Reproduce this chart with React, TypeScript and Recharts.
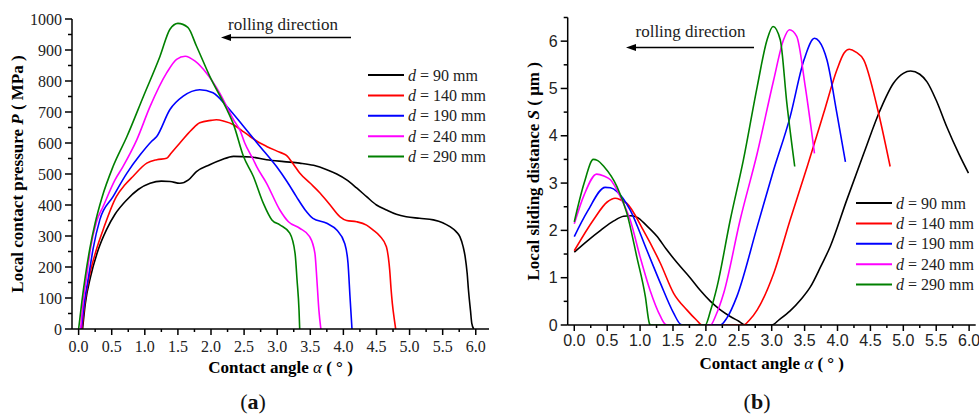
import { LineChart, Line, XAxis, YAxis } from "recharts";

type Pair = [number, number];

// series order / colours shared by both panels
const spacings = [90, 140, 190, 240, 290];
const colors = ["#000000", "#ff0000", "#0000ff", "#ff00ff", "#008000"];

// (a) local contact pressure P (MPa) against contact angle α (°)
const pressure90: Pair[] = [
  [0.06, 0], [0.1, 80], [0.18, 168], [0.3, 258], [0.42, 320], [0.55, 370], [0.73, 417],
  [0.9, 450], [1.08, 470], [1.25, 477], [1.38, 476], [1.53, 470], [1.66, 481], [1.78, 508],
  [1.98, 530], [2.15, 545], [2.34, 557], [2.6, 555], [2.84, 546], [3.1, 540], [3.34, 535],
  [3.55, 528], [3.75, 514], [3.9, 500], [4.05, 481], [4.2, 455], [4.35, 427], [4.5, 400],
  [4.65, 384], [4.8, 370], [4.95, 362], [5.15, 357], [5.36, 352], [5.5, 343], [5.61, 330],
  [5.7, 315], [5.76, 298], [5.81, 265], [5.84, 233], [5.87, 180], [5.89, 125], [5.92, 60],
  [5.94, 18], [5.97, 0],
];
const pressure140: Pair[] = [
  [0.05, 0], [0.09, 80], [0.16, 168], [0.26, 250], [0.37, 320], [0.57, 427], [0.7, 465],
  [0.82, 492], [1.03, 535], [1.18, 546], [1.33, 551], [1.4, 568], [1.53, 600], [1.71, 643],
  [1.83, 665], [2.0, 673], [2.08, 675], [2.2, 670], [2.34, 659], [2.5, 635], [2.59, 621],
  [2.74, 600], [2.84, 589], [3.04, 570], [3.14, 560], [3.25, 530], [3.34, 503], [3.5, 470],
  [3.65, 438], [3.8, 400], [3.95, 362], [4.05, 350], [4.2, 346], [4.35, 335], [4.45, 319],
  [4.55, 300], [4.65, 265], [4.68, 230], [4.7, 190], [4.72, 130], [4.74, 82], [4.77, 30],
  [4.79, 0],
];
const pressure190: Pair[] = [
  [0.04, 0], [0.09, 90], [0.15, 168], [0.22, 260], [0.32, 352], [0.52, 427], [0.73, 503],
  [0.93, 562], [1.1, 605], [1.18, 621], [1.38, 708], [1.58, 751], [1.83, 772], [2.03, 762],
  [2.24, 718], [2.49, 654], [2.74, 589], [2.99, 524], [3.15, 475], [3.29, 427], [3.42, 385],
  [3.54, 357], [3.75, 341], [3.9, 319], [4.02, 276], [4.07, 212], [4.1, 104], [4.13, 0],
];
const pressure240: Pair[] = [
  [0.03, 0], [0.07, 90], [0.12, 168], [0.18, 260], [0.27, 346], [0.37, 395], [0.55, 481],
  [0.67, 524], [0.88, 611], [1.08, 718], [1.33, 826], [1.48, 870], [1.61, 880], [1.76, 864],
  [1.93, 826], [2.13, 762], [2.34, 675], [2.44, 640], [2.51, 600], [2.64, 546], [2.69, 524],
  [2.84, 470], [3.04, 384], [3.17, 346], [3.34, 325], [3.49, 298], [3.57, 244], [3.6, 158],
  [3.63, 61], [3.66, 0],
];
const pressure290: Pair[] = [
  [0.0, 0], [0.05, 90], [0.1, 168], [0.17, 260], [0.25, 342], [0.35, 422], [0.52, 524],
  [0.73, 621], [0.98, 751], [1.23, 880], [1.38, 967], [1.5, 986], [1.65, 973], [1.78, 913],
  [1.98, 816], [2.24, 708], [2.34, 660], [2.49, 557], [2.64, 492], [2.79, 406], [2.92, 352],
  [3.04, 336], [3.19, 309], [3.27, 244], [3.3, 158], [3.33, 60], [3.34, 0],
];

// (b) local sliding distance S (μm) against contact angle α (°)
const sliding90: Pair[] = [
  [0, 1.54], [0.2, 1.78], [0.4, 2.0], [0.6, 2.2], [0.75, 2.3], [0.85, 2.31], [0.95, 2.28],
  [1.1, 2.1], [1.26, 1.87], [1.4, 1.6], [1.56, 1.32], [1.76, 1.0], [1.91, 0.74], [2.07, 0.5],
  [2.22, 0.32], [2.37, 0.18], [2.5, 0.08], [2.6, 0], [3.0, 0], [3.12, 0.12], [3.28, 0.3],
  [3.45, 0.55], [3.59, 0.81], [3.75, 1.25], [3.89, 1.66], [4.14, 2.64], [4.4, 3.63],
  [4.65, 4.55], [4.85, 5.11], [5.0, 5.32], [5.11, 5.37], [5.25, 5.3], [5.36, 5.14],
  [5.5, 4.75], [5.66, 4.19], [5.85, 3.6], [5.99, 3.21],
];
const sliding140: Pair[] = [
  [0, 1.57], [0.29, 2.22], [0.5, 2.6], [0.62, 2.68], [0.7, 2.65], [0.8, 2.57], [1.05, 2.0],
  [1.31, 1.3], [1.51, 0.67], [1.71, 0.32], [1.86, 0.1], [1.94, 0], [2.57, 0], [2.66, 0.1],
  [2.78, 0.32], [3.03, 1.09], [3.28, 2.22], [3.54, 3.35], [3.79, 4.48], [3.99, 5.39],
  [4.1, 5.75], [4.18, 5.83], [4.28, 5.77], [4.4, 5.6], [4.6, 4.62], [4.8, 3.35],
];
const sliding190: Pair[] = [
  [0, 1.87], [0.2, 2.4], [0.47, 2.91], [0.55, 2.9], [0.65, 2.82], [0.85, 2.43], [1.1, 1.59],
  [1.31, 0.88], [1.51, 0.25], [1.61, 0.02], [1.65, 0], [2.22, 0], [2.32, 0.15], [2.47, 0.6],
  [2.78, 2.08], [3.03, 3.28], [3.28, 4.4], [3.49, 5.6], [3.65, 6.06], [3.72, 6.0],
  [3.84, 5.6], [3.99, 4.48], [4.12, 3.45],
];
const sliding240: Pair[] = [
  [0, 2.14], [0.15, 2.75], [0.34, 3.19], [0.45, 3.15], [0.55, 3.07], [0.7, 2.71],
  [0.85, 2.22], [1.0, 1.44], [1.15, 0.74], [1.31, 0.18], [1.38, 0.02], [1.42, 0], [2.07, 0],
  [2.15, 0.2], [2.27, 0.67], [2.52, 2.22], [2.78, 3.63], [3.03, 5.18], [3.18, 6.03],
  [3.27, 6.24], [3.38, 6.1], [3.51, 5.04], [3.65, 3.63],
];
const sliding290: Pair[] = [
  [0, 2.18], [0.15, 3.0], [0.29, 3.5], [0.35, 3.48], [0.45, 3.35], [0.65, 2.92], [0.8, 2.36],
  [0.95, 1.44], [1.08, 0.6], [1.14, 0.04], [1.16, 0], [1.99, 0], [2.07, 0.3], [2.17, 0.81],
  [2.37, 2.22], [2.57, 3.49], [2.78, 5.04], [2.93, 6.03], [3.02, 6.31], [3.13, 6.03],
  [3.23, 4.69], [3.35, 3.35],
];

const pressureSeries = [pressure90, pressure140, pressure190, pressure240, pressure290];
const slidingSeries = [sliding90, sliding140, sliding190, sliding240, sliding290];

const angleTicks = [
  0, 0.25, 0.5, 0.75, 1, 1.25, 1.5, 1.75, 2, 2.25, 2.5, 2.75, 3, 3.25, 3.5, 3.75, 4, 4.25,
  4.5, 4.75, 5, 5.25, 5.5, 5.75, 6,
];
const pressureTicks = [
  0, 50, 100, 150, 200, 250, 300, 350, 400, 450, 500, 550, 600, 650, 700, 750, 800, 850,
  900, 950, 1000,
];
const slidingTicks = [0, 0.5, 1, 1.5, 2, 2.5, 3, 3.5, 4, 4.5, 5, 5.5, 6, 6.5];

const SERIF = "'Liberation Serif', 'Times New Roman', serif";
const SANS = "'Liberation Sans', Arial, sans-serif";

const toPoints = (pairs: Pair[]) => pairs.map(([a, v]) => ({ a, v }));

const isHalf = (v: number) => Math.abs(v * 2 - Math.round(v * 2)) < 1e-6;

function AngleTick(props: any) {
  const { x, y, payload, font, gap } = props;
  const major = isHalf(payload.value);
  return (
    <g>
      <line x1={x} x2={x} y1={y} y2={y + (major ? 6 : 3)} stroke="#000" strokeWidth={1.5} />
      {major && (
        <text x={x} y={y + gap} textAnchor="middle" fontFamily={font} fontSize={16} fill="#222">
          {payload.value.toFixed(1)}
        </text>
      )}
    </g>
  );
}

function ValueTick(props: any) {
  const { x, y, payload, font, majorStep } = props;
  const v = payload.value;
  const major = Math.abs(v / majorStep - Math.round(v / majorStep)) < 1e-6;
  return (
    <g>
      <line x1={x} x2={x - (major ? 7 : 4)} y1={y} y2={y} stroke="#000" strokeWidth={1.5} />
      {major && (
        <text x={x - 10} y={y} dy="0.35em" textAnchor="end" fontFamily={font} fontSize={16} fill="#222">
          {v}
        </text>
      )}
    </g>
  );
}

function AngleTitle({ viewBox }: any) {
  return (
    <text
      x={viewBox.x + viewBox.width / 2}
      y={viewBox.y + 44}
      textAnchor="middle"
      fontFamily={SERIF}
      fontSize={17}
      fontWeight="bold"
    >
      Contact angle <tspan fontStyle="italic" fontWeight="normal">α</tspan> ( ° )
    </text>
  );
}

function makeYTitle(main: string, sym: string, unit: string, dx: number) {
  return ({ viewBox }: any) => {
    const cx = viewBox.x + dx;
    const cy = viewBox.y + viewBox.height / 2;
    return (
      <text
        x={cx}
        y={cy}
        transform={`rotate(-90 ${cx} ${cy})`}
        textAnchor="middle"
        fontFamily={SERIF}
        fontSize={17}
        fontWeight="bold"
      >
        {main} <tspan fontStyle="italic">{sym}</tspan> ( {unit} )
      </text>
    );
  };
}

const PressureTitle = makeYTitle("Local contact pressure", "P", "MPa", 23);
const SlidingTitle = makeYTitle("Local sliding distance", "S", "μm", 49);

function LegendBlock({ x, y, step }: { x: number; y: number; step: number }) {
  return (
    <g>
      {spacings.map((d, i) => (
        <g key={d}>
          <line x1={x} x2={x + 36} y1={y + i * step} y2={y + i * step} stroke={colors[i]} strokeWidth={2} />
          <text x={x + 40} y={y + i * step + 5.5} fontFamily={SERIF} fontSize={16} fill="#222">
            <tspan fontStyle="italic">d</tspan> = {d} mm
          </text>
        </g>
      ))}
    </g>
  );
}

function Arrow({ x1, x2, y, tx, ty }: { x1: number; x2: number; y: number; tx: number; ty: number }) {
  return (
    <g>
      <text x={tx} y={ty} fontFamily={SERIF} fontSize={17} fill="#222">
        rolling direction
      </text>
      <line x1={x1 + 8} x2={x2} y1={y} y2={y} stroke="#000" strokeWidth={1.6} />
      <path d={`M${x1},${y} L${x1 + 10},${y - 3.5} L${x1 + 10},${y + 3.5} Z`} fill="#000" />
    </g>
  );
}

export default function App() {
  return (
    <div style={{ position: "absolute", left: 0, top: 0, width: 979, height: 417, background: "#fff" }}>
      <div style={{ position: "absolute", left: 0, top: 0 }}>
        <LineChart width={490} height={417} margin={{ top: 19, right: 1, bottom: 0, left: 0 }}>
          <XAxis
            type="number"
            dataKey="a"
            domain={[-0.1, 6.2]}
            allowDataOverflow
            ticks={angleTicks}
            interval={0}
            tickLine={false}
            tickSize={0}
            tickMargin={0}
            height={88}
            stroke="#000"
            strokeWidth={1.5}
            tick={(p: any) => <AngleTick {...p} font={SERIF} gap={23} />}
            label={<AngleTitle />}
          />
          <YAxis
            type="number"
            domain={[0, 1000]}
            allowDataOverflow
            ticks={pressureTicks}
            interval={0}
            tickLine={false}
            tickSize={0}
            tickMargin={0}
            width={72}
            stroke="#000"
            strokeWidth={1.5}
            tick={(p: any) => <ValueTick {...p} font={SERIF} majorStep={100} />}
            label={<PressureTitle />}
          />
          {pressureSeries.map((s, i) => (
            <Line
              key={spacings[i]}
              data={toPoints(s)}
              dataKey="v"
              type="monotone"
              stroke={colors[i]}
              strokeWidth={1.6}
              dot={false}
              isAnimationActive={false}
            />
          ))}
        </LineChart>
      </div>
      <div style={{ position: "absolute", left: 490, top: 0 }}>
        <LineChart width={489} height={417} margin={{ top: 17.5, right: 3.3, bottom: 0, left: 0 }}>
          <XAxis
            type="number"
            dataKey="a"
            domain={[-0.1, 6.1]}
            allowDataOverflow
            ticks={angleTicks}
            interval={0}
            tickLine={false}
            tickSize={0}
            tickMargin={0}
            height={92}
            stroke="#000"
            strokeWidth={1.5}
            tick={(p: any) => <AngleTick {...p} font={SANS} gap={21} />}
            label={<AngleTitle />}
          />
          <YAxis
            type="number"
            domain={[0, 6.5]}
            allowDataOverflow
            ticks={slidingTicks}
            interval={0}
            tickLine={false}
            tickSize={0}
            tickMargin={0}
            width={77.7}
            stroke="#000"
            strokeWidth={1.5}
            tick={(p: any) => <ValueTick {...p} font={SANS} majorStep={1} />}
            label={<SlidingTitle />}
          />
          {slidingSeries.map((s, i) => (
            <Line
              key={spacings[i]}
              data={toPoints(s)}
              dataKey="v"
              type="monotone"
              stroke={colors[i]}
              strokeWidth={1.6}
              dot={false}
              isAnimationActive={false}
            />
          ))}
        </LineChart>
      </div>
      <svg width={979} height={417} style={{ position: "absolute", left: 0, top: 0, pointerEvents: "none" }}>
        <Arrow x1={221} x2={351} y={37.5} tx={228} ty={29.5} />
        <Arrow x1={626} x2={754} y={47.5} tx={635.5} ty={37} />
        <LegendBlock x={368} y={75} step={20.4} />
        <LegendBlock x={856} y={203} step={20.4} />
        <text x={253} y={409} textAnchor="middle" fontFamily={SERIF} fontSize={22} fill="#111">
          (<tspan fontWeight="bold">a</tspan>)
        </text>
        <text x={757} y={409} textAnchor="middle" fontFamily={SERIF} fontSize={22} fill="#111">
          (<tspan fontWeight="bold">b</tspan>)
        </text>
      </svg>
    </div>
  );
}
